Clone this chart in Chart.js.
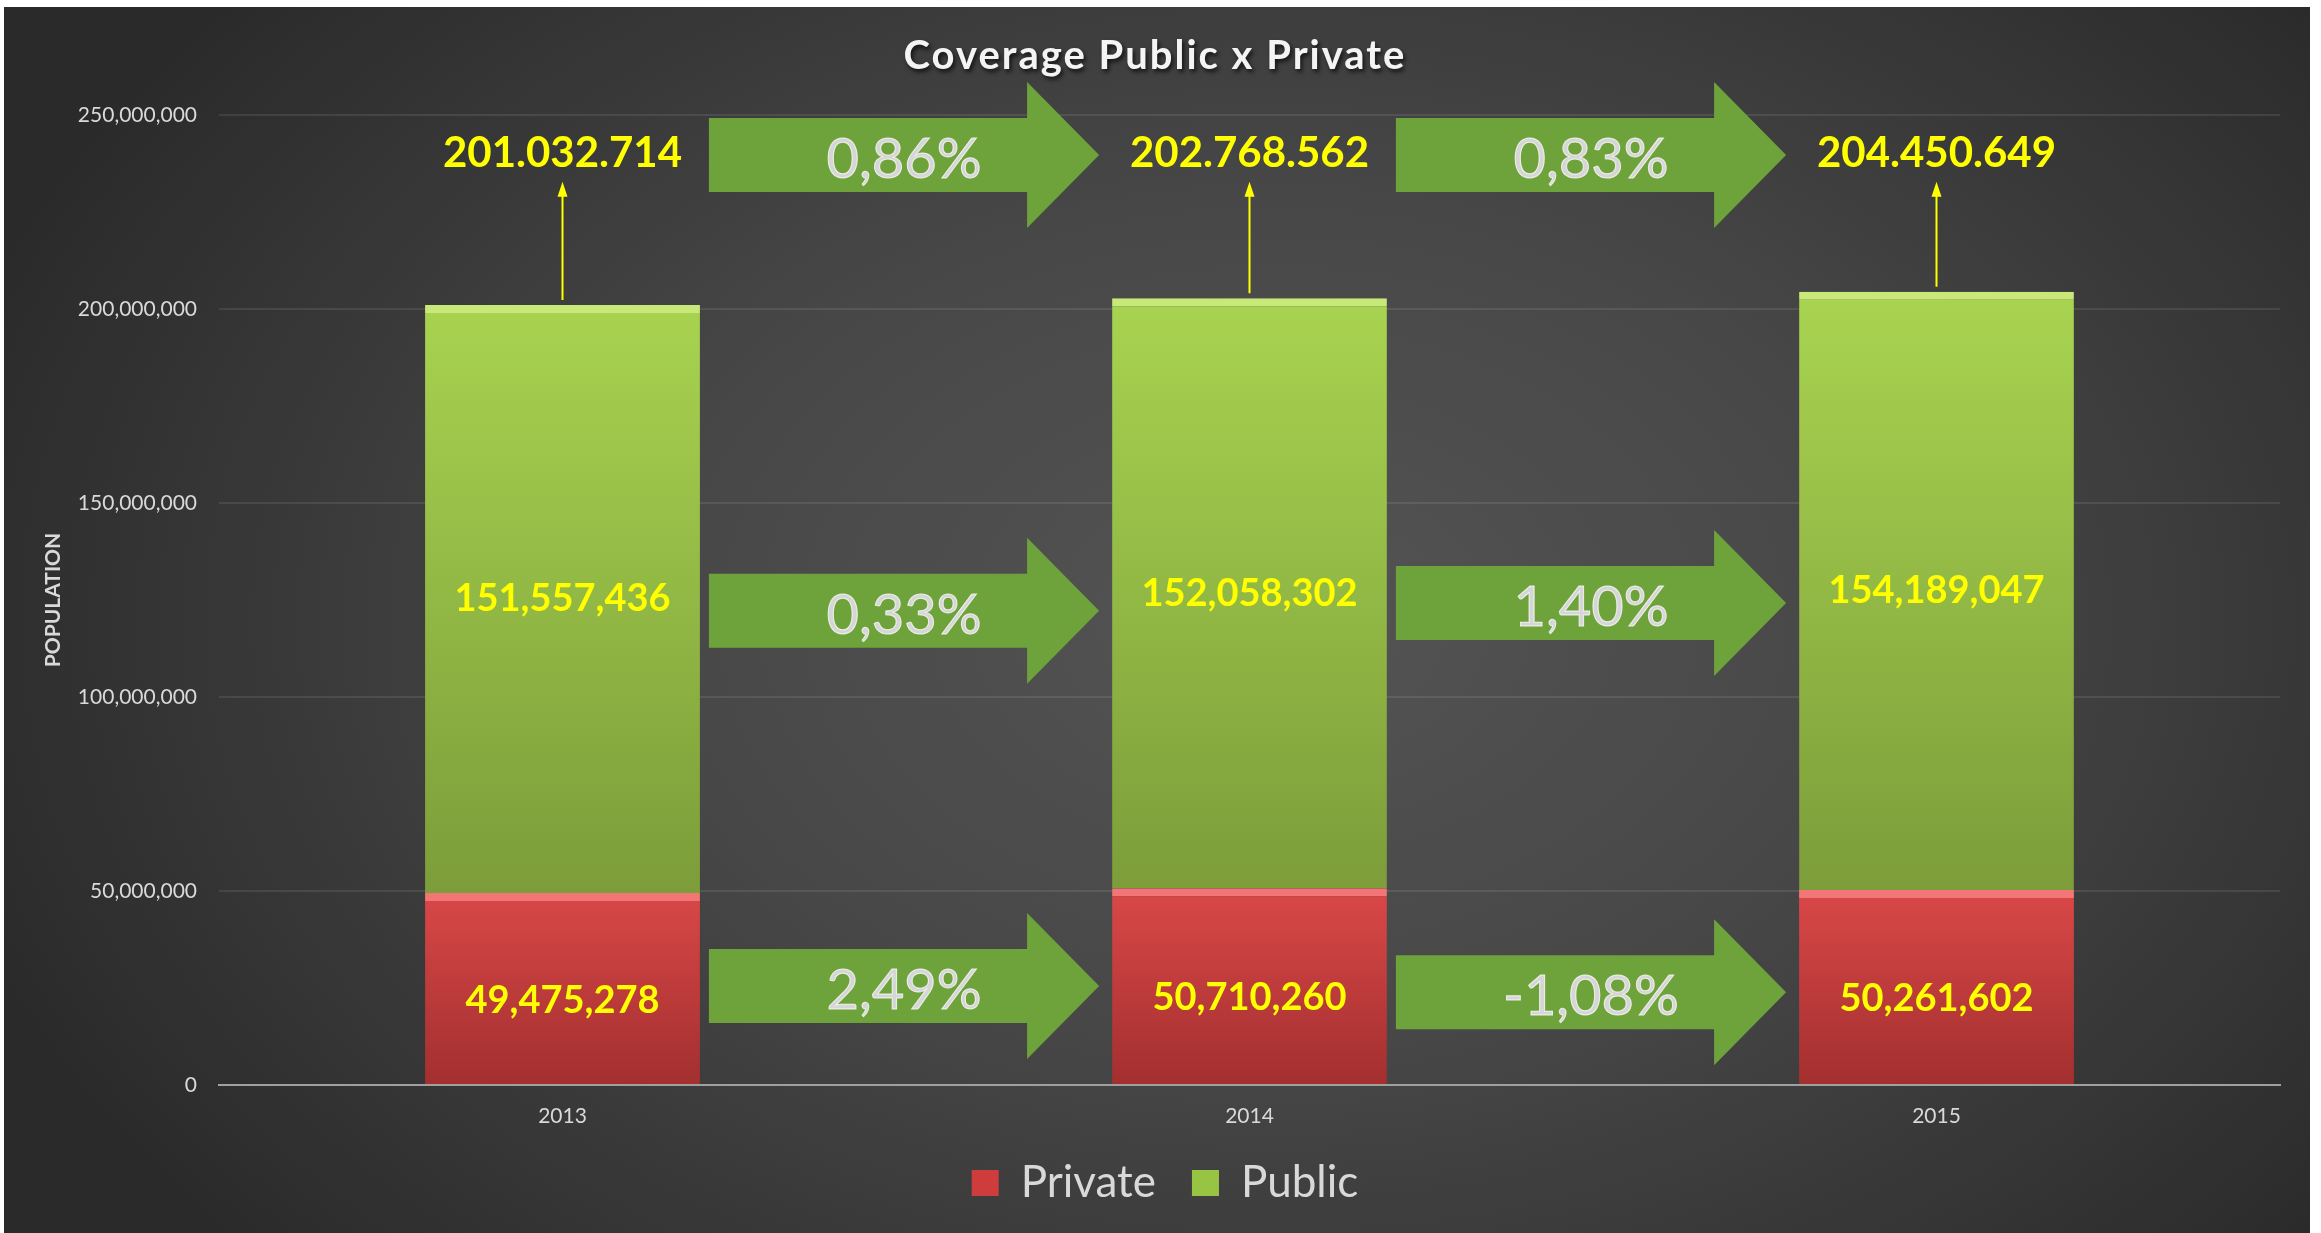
<!DOCTYPE html>
<html>
<head>
<meta charset="utf-8">
<title>Coverage Public x Private</title>
<script src="https://cdn.jsdelivr.net/npm/chart.js@4.4.1/dist/chart.umd.min.js"></script>
<style>
  html, body { margin: 0; padding: 0; background: #fff; }
  #panel {
    position: absolute; left: 4px; top: 7px; width: 2306px; height: 1226px;
    background: radial-gradient(ellipse 60% 78% at 55% 50%, #545454 0%, #474747 45%, #2a2a2a 100%);
  }
  #box { position: absolute; left: 26px; top: 0; width: 2280px; height: 1226px; }
</style>
</head>
<body>
<div id="panel"><div id="box"><canvas id="graf"></canvas></div></div>
<script>
// podatki
var years = ['2013', '2014', '2015'];
var privateValues = [49475278, 50710260, 50261602];
var publicValues = [151557436, 152058302, 154189047];
var yTicks = [0, 50000000, 100000000, 150000000, 200000000, 250000000];
var totalGrowth = ['0,86%', '0,83%'];
var publicGrowth = ['0,33%', '1,40%'];
var privateGrowth = ['2,49%', '-1,08%'];

var totals = years.map(function (y, i) { return privateValues[i] + publicValues[i]; });

function fmt(n, sep) {
    return String(n).replace(/\B(?=(\d{3})+(?!\d))/g, sep);
}

function barGradient(context, topColor, bottomColor, topValue, bottomValue) {
    var chart = context.chart;
    if (!chart.chartArea || !chart.scales.y) return topColor;
    var y = chart.scales.y;
    var g = chart.ctx.createLinearGradient(0, y.getPixelForValue(topValue), 0, y.getPixelForValue(bottomValue));
    g.addColorStop(0, topColor);
    g.addColorStop(1, bottomColor);
    return g;
}

function blockArrow(c, x0, x1, cy, text) {
    var head = 72, body = 37, wing = 73;
    c.fillStyle = '#6ea33c';
    c.beginPath();
    c.moveTo(x0, cy - body);
    c.lineTo(x1 - head, cy - body);
    c.lineTo(x1 - head, cy - wing);
    c.lineTo(x1, cy);
    c.lineTo(x1 - head, cy + wing);
    c.lineTo(x1 - head, cy + body);
    c.lineTo(x0, cy + body);
    c.closePath();
    c.fill();
    c.font = '56px Lato';
    c.textAlign = 'center';
    c.textBaseline = 'alphabetic';
    c.fillStyle = '#d6d6d6';
    c.fillText(text, (x0 + x1) / 2, cy + 23);
    c.lineWidth = 1;
    c.strokeStyle = 'rgba(255,255,255,0.75)';
    c.strokeText(text, (x0 + x1) / 2, cy + 23);
}

// senca in razmik črk za naslov, legenda malo v desno
var titleStyle = {
    id: 'titleStyle',
    afterLayout: function (chart) {
        if (chart.legend) {
            chart.legend.left += 10;
            chart.legend.right += 10;
        }
        var tb = chart.titleBlock;
        if (!tb || tb._styled) return;
        var draw = tb.draw;
        tb.draw = function () {
            var c = chart.ctx;
            c.save();
            c.letterSpacing = '2px';
            c.shadowColor = 'rgba(0,0,0,0.7)';
            c.shadowOffsetX = 2;
            c.shadowOffsetY = 3;
            c.shadowBlur = 4;
            draw.apply(tb, arguments);
            c.restore();
        };
        tb._styled = true;
    }
};

// oznake, puščice in vsote
var annotations = {
    id: 'annotations',
    afterDatasetsDraw: function (chart, args, opts) {
        var c = chart.ctx, y = chart.scales.y;
        var privBars = chart.getDatasetMeta(0).data;
        var pubBars = chart.getDatasetMeta(1).data;
        c.save();

        // zelene puščice med stolpci
        opts.rows.forEach(function (row) {
            for (var i = 0; i < row.texts.length; i++) {
                var a = pubBars[i], b = pubBars[i + 1];
                var x0 = a.x + a.width / 2 + 9;
                var x1 = b.x - b.width / 2 - 13;
                blockArrow(c, x0, x1, y.getPixelForValue(row.levels[i]), row.texts[i]);
            }
        });

        c.fillStyle = '#ffff00';
        c.textAlign = 'center';
        c.textBaseline = 'middle';
        c.font = 'bold 38px Lato';
        privBars.forEach(function (b, i) {
            c.fillText(fmt(privateValues[i], ','), b.x, (b.y + b.base) / 2 + 12);
        });
        pubBars.forEach(function (b, i) {
            c.fillText(fmt(publicValues[i], ','), b.x, (b.y + b.base) / 2);
        });

        var totalY = y.getPixelForValue(opts.totalLevel);
        c.font = 'bold 42px Lato';
        pubBars.forEach(function (b, i) {
            c.fillStyle = '#ffff00';
            c.fillText(fmt(totals[i], '.'), b.x, totalY);
            var tip = totalY + 28;
            c.strokeStyle = '#ffff00';
            c.lineWidth = 2;
            c.beginPath();
            c.moveTo(b.x, b.y - 5);
            c.lineTo(b.x, tip + 10);
            c.stroke();
            c.beginPath();
            c.moveTo(b.x, tip);
            c.lineTo(b.x - 5, tip + 15);
            c.lineTo(b.x + 5, tip + 15);
            c.closePath();
            c.fill();
        });
        c.restore();
    }
};

var ctx = document.getElementById('graf').getContext('2d');
var myChart = new Chart(ctx, {
    type: 'bar',
    data: {
        labels: years,
        datasets: [{
            label: 'Private',
            data: privateValues,
            backgroundColor: function (context) {
                return barGradient(context, '#da4848', '#a32f2f', Math.max.apply(null, privateValues), 0);
            },
            borderColor: '#f27676',
            borderWidth: { top: 8, left: 0, right: 0, bottom: 0 },
            borderSkipped: false,
            barPercentage: 0.5,
            categoryPercentage: 0.8
        }, {
            label: 'Public',
            data: publicValues,
            backgroundColor: function (context) {
                return barGradient(context, '#a9d450', '#7c9d3a', Math.max.apply(null, totals), Math.min.apply(null, privateValues));
            },
            borderColor: '#c9e87a',
            borderWidth: { top: 8, left: 0, right: 0, bottom: 0 },
            borderSkipped: false,
            barPercentage: 0.5,
            categoryPercentage: 0.8
        }]
    },
    options: {
        responsive: true,
        maintainAspectRatio: false,
        animation: false,
        layout: { padding: { top: 0, left: 0, right: 30, bottom: 18 } },
        plugins: {
            title: {
                display: true,
                text: 'Coverage Public x Private',
                color: '#f4f4f4',
                font: { family: 'Lato', size: 40, weight: 'bold' },
                padding: { top: 25, bottom: 35 }
            },
            legend: {
                position: 'bottom',
                labels: {
                    color: '#d9d9d9',
                    font: { family: 'Lato', size: 44 },
                    boxWidth: 27,
                    boxHeight: 26,
                    padding: 36,
                    generateLabels: function (chart) {
                        var items = Chart.defaults.plugins.legend.labels.generateLabels(chart);
                        var fills = ['#cf3c3c', '#98c444'];
                        items.forEach(function (it, i) {
                            it.fillStyle = fills[i];
                            it.strokeStyle = fills[i];
                            it.lineWidth = 0;
                        });
                        return items;
                    }
                }
            },
            tooltip: { enabled: false },
            annotations: {
                totalLevel: 240000000,
                rows: [
                    { texts: totalGrowth, levels: [239700000, 239700000] },
                    { texts: publicGrowth, levels: [122200000, 124200000] },
                    { texts: privateGrowth, levels: [25500000, 23900000] }
                ]
            }
        },
        scales: {
            x: {
                stacked: true,
                grid: { display: false, drawTicks: false },
                border: { color: '#a0a0a0', width: 2 },
                ticks: { color: '#d9d9d9', font: { family: 'Lato', size: 21 }, padding: 19 },
                afterFit: function (s) { s.height = 40; }
            },
            y: {
                stacked: true,
                min: 0,
                max: 250000000,
                afterBuildTicks: function (s) {
                    s.ticks = yTicks.map(function (v) { return { value: v }; });
                },
                afterFit: function (s) { s.width = 189; },
                grid: { color: 'rgba(255,255,255,0.09)', lineWidth: 2, drawTicks: false },
                border: { display: false },
                ticks: {
                    color: '#d9d9d9',
                    font: { family: 'Lato', size: 21 },
                    padding: 22,
                    callback: function (v) { return fmt(v, ','); }
                },
                title: {
                    display: true,
                    text: 'POPULATION',
                    color: '#d9d9d9',
                    font: { family: 'Lato', size: 21, weight: 'bold' },
                    padding: { top: 11, bottom: 0 }
                }
            }
        }
    },
    plugins: [titleStyle, annotations]
});
</script>
</body>
</html>
